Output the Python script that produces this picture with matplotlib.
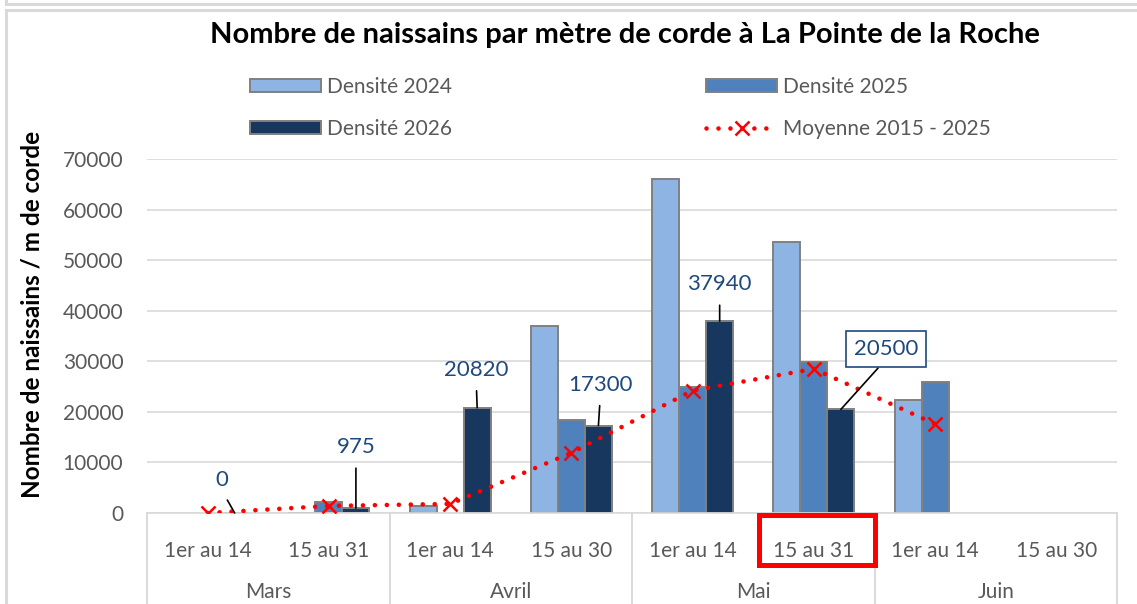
import matplotlib.pyplot as plt
import matplotlib.patches as mpatches
import matplotlib.transforms as mtransforms
from matplotlib.lines import Line2D
import numpy as np

nan = np.nan

sub_labels = ["1er au 14", "15 au 31", "1er au 14", "15 au 30",
              "1er au 14", "15 au 31", "1er au 14", "15 au 30"]
months = ["Mars", "Avril", "Mai", "Juin"]

dens_2024 = [nan, 0, 1300, 37000, 66000, 53600, 22400, nan]
dens_2025 = [nan, 2240, nan, 18400, 25000, 29800, 26000, nan]
dens_2026 = [0, 975, 20820, 17300, 37940, 20500, nan, nan]
moyenne = [0, 1400, 1800, 11900, 24200, 28500, 17600]

# (index, offset px) for the labels on 2026 bars
label_offsets = {0: (-13, 33), 1: (0, 61), 2: (-1, 38), 3: (2, 41), 4: (0, 37), 5: (45, 60)}

C24, C25, C26 = "#8EB4E3", "#4F81BD", "#17375E"
GREY_TXT = "#595959"
GRID = "#d9d9d9"

plt.rcParams['font.family'] = ['Lato', 'DejaVu Sans']

fig = plt.figure(figsize=(11.37, 6.04), dpi=100)
W, H = 1137, 604
ax = fig.add_axes([147 / W, 1 - 513 / H, (1117 - 147) / W, (513 - 159) / H])

x = np.arange(len(sub_labels))
bw = 0.223
bar_kw = dict(width=bw, edgecolor="#808080", linewidth=1.4, zorder=2)
ax.bar(x - bw, dens_2024, color=C24, **bar_kw)
ax.bar(x, dens_2025, color=C25, **bar_kw)
ax.bar(x + bw, dens_2026, color=C26, **bar_kw)

dotted = (0, (0.01, 2.6))
ax.plot(np.arange(len(moyenne)), moyenne, color="red", linewidth=3.3,
        linestyle=dotted, dash_capstyle="round", marker="x", markersize=10,
        markeredgewidth=1.8, zorder=5)

# data labels on 2026 bars
for i, (dx, dy) in label_offsets.items():
    boxed = i == 5
    ax.annotate(f"{dens_2026[i]:.0f}", xy=(i + bw, dens_2026[i]),
                xytext=(dx, dy), textcoords="offset pixels",
                ha="center", va="center", fontsize=16, color="#1F497D",
                bbox=dict(boxstyle="square,pad=0.36", fc="white", ec="#1F497D", lw=1.2) if boxed else None,
                arrowprops=dict(arrowstyle="-", color="black", lw=1.2,
                                relpos=(0.5, 0), shrinkA=6 if not boxed else 0, shrinkB=0),
                zorder=6)

ax.set_xlim(-0.5, 7.5)
ax.set_ylim(0, 70000)
ax.set_yticks(np.arange(0, 70001, 10000))
ax.set_xticks(x)
ax.set_xticklabels(sub_labels)
ax.tick_params(axis="both", length=0, labelsize=15, labelcolor=GREY_TXT)
ax.tick_params(axis="x", pad=20)
ax.tick_params(axis="y", pad=17)
ax.grid(axis="y", color=GRID, linewidth=1.2, zorder=0)
ax.set_axisbelow(True)
for s in ["left", "right", "top"]:
    ax.spines[s].set_visible(False)
ax.spines["bottom"].set_color(GRID)
ax.spines["bottom"].set_linewidth(1.2)

ax.set_ylabel("Nombre de naissains / m de corde", fontsize=17.5, fontweight="bold",
              color="black")
ax.yaxis.set_label_coords(-0.107, 0.56)

# month level of the category axis
trans = mtransforms.blended_transform_factory(ax.transData, ax.transAxes)
for k, m in enumerate(months):
    ax.text(2 * k + 0.5, -0.222, m, transform=trans, ha="center", va="center",
            fontsize=15, color=GREY_TXT)
for xs in [-0.5, 1.5, 3.5, 5.5, 7.5]:
    ax.add_line(Line2D([xs, xs], [0, -0.3], transform=trans, color=GRID,
                       linewidth=1.4, clip_on=False))

# highlight box
ax.add_patch(mpatches.Rectangle((4.549, -0.147), 5.505 - 4.549, 0.141, transform=trans,
                                fill=False, edgecolor="red", linewidth=3.6, clip_on=False, zorder=7))

fig.text(625 / W, 1 - 35 / H, "Nombre de naissains par mètre de corde à La Pointe de la Roche",
         ha="center", va="center", fontsize=21, fontweight="bold")

# legend
h24 = mpatches.Patch(facecolor=C24, edgecolor="#808080", linewidth=1.4)
h25 = mpatches.Patch(facecolor=C25, edgecolor="#808080", linewidth=1.4)
h26 = mpatches.Patch(facecolor=C26, edgecolor="#808080", linewidth=1.4)
hm = Line2D([], [], color="red", linewidth=3.3, linestyle=dotted,
            dash_capstyle="round", marker="x", markersize=10, markeredgewidth=1.8)
fig.legend([h24, h26, h25, hm],
           ["Densité 2024", "Densité 2026", "Densité 2025", "Moyenne 2015 - 2025"],
           ncol=2, loc="upper left", bbox_to_anchor=(250 / W, 1 - 77 / H),
           frameon=False, fontsize=15, handlelength=3.4, handleheight=0.6,
           handletextpad=0.3, columnspacing=12.2, labelspacing=1.05,
           borderpad=0, borderaxespad=0, labelcolor=GREY_TXT)

# chart frame
fig.add_artist(Line2D([6 / W, 6 / W], [0, 1 - 10 / H], color=GRID, linewidth=2.2))
fig.add_artist(Line2D([6 / W, 1], [1 - 10 / H, 1 - 10 / H], color=GRID, linewidth=2.2))
fig.add_artist(Line2D([6 / W, 1], [1 - 3.5 / H, 1 - 3.5 / H], color=GRID, linewidth=2.2))
fig.add_artist(Line2D([6 / W, 6 / W], [1 - 3.5 / H, 1], color=GRID, linewidth=2.2))

fig.savefig("out.png", dpi=100)
